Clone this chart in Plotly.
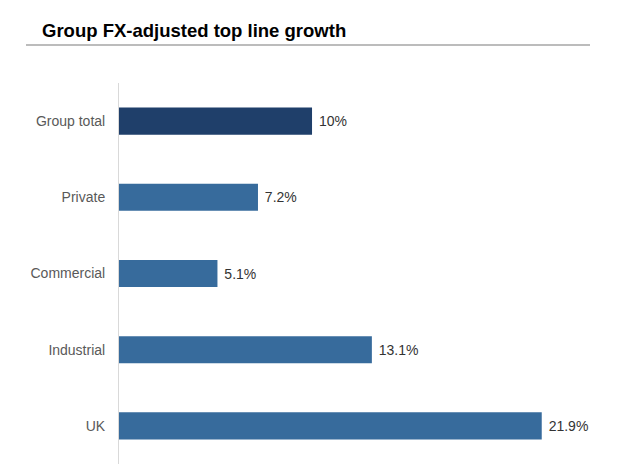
import plotly.graph_objects as go

categories = ["Group total", "Private", "Commercial", "Industrial", "UK"]
values = [10.0, 7.2, 5.1, 13.1, 21.9]
labels = ["10%", "7.2%", "5.1%", "13.1%", "21.9%"]
colors = ["#1F3F6A", "#376B9C", "#376B9C", "#376B9C", "#376B9C"]

W, H = 634, 474
OFF = 8  # page body margin offset
L, R, T, B = 119 - OFF, 44 + OFF, 83 - OFF, 10 + OFF
pw, ph = W - L - R, H - T - B

def px(x):
    return (x - OFF - L) / pw

def py(y):
    return (H - B - (y - OFF)) / ph

fig = go.Figure(go.Bar(
    x=values, y=categories, orientation="h",
    marker=dict(color=colors, line=dict(width=0)),
    text=["\u00a0" + t for t in labels], textposition="outside", cliponaxis=False,
    textfont=dict(family="Liberation Sans, Arial", size=14, color="#333333"),
    width=0.355,
))

fig.update_layout(
    width=W, height=H,
    margin=dict(l=L, r=R, t=T, b=B),
    paper_bgcolor="white", plot_bgcolor="white",
    showlegend=False,
    font=dict(family="Liberation Sans, Arial", size=14, color="#595959"),
    xaxis=dict(range=[0, 24.4], visible=False, showgrid=False, zeroline=False),
    yaxis=dict(autorange="reversed", showline=True, linecolor="#D9D9D9", linewidth=1,
               showgrid=False, zeroline=False, ticks="", ticklabelstandoff=10,
               tickfont=dict(size=14, color="#595959")),
    annotations=[dict(
        text="<b>Group FX-adjusted top line growth</b>",
        xref="paper", yref="paper", x=px(40), y=py(30),
        xanchor="left", yanchor="middle", showarrow=False,
        font=dict(family="Liberation Sans, Arial", size=18.5, color="#000000"),
    )],
    shapes=[dict(
        type="line", xref="paper", yref="paper",
        x0=px(26), x1=px(590), y0=py(45), y1=py(45),
        line=dict(color="#A6A6A6", width=1.5),
    )],
)

fig.write_html("out.html")
